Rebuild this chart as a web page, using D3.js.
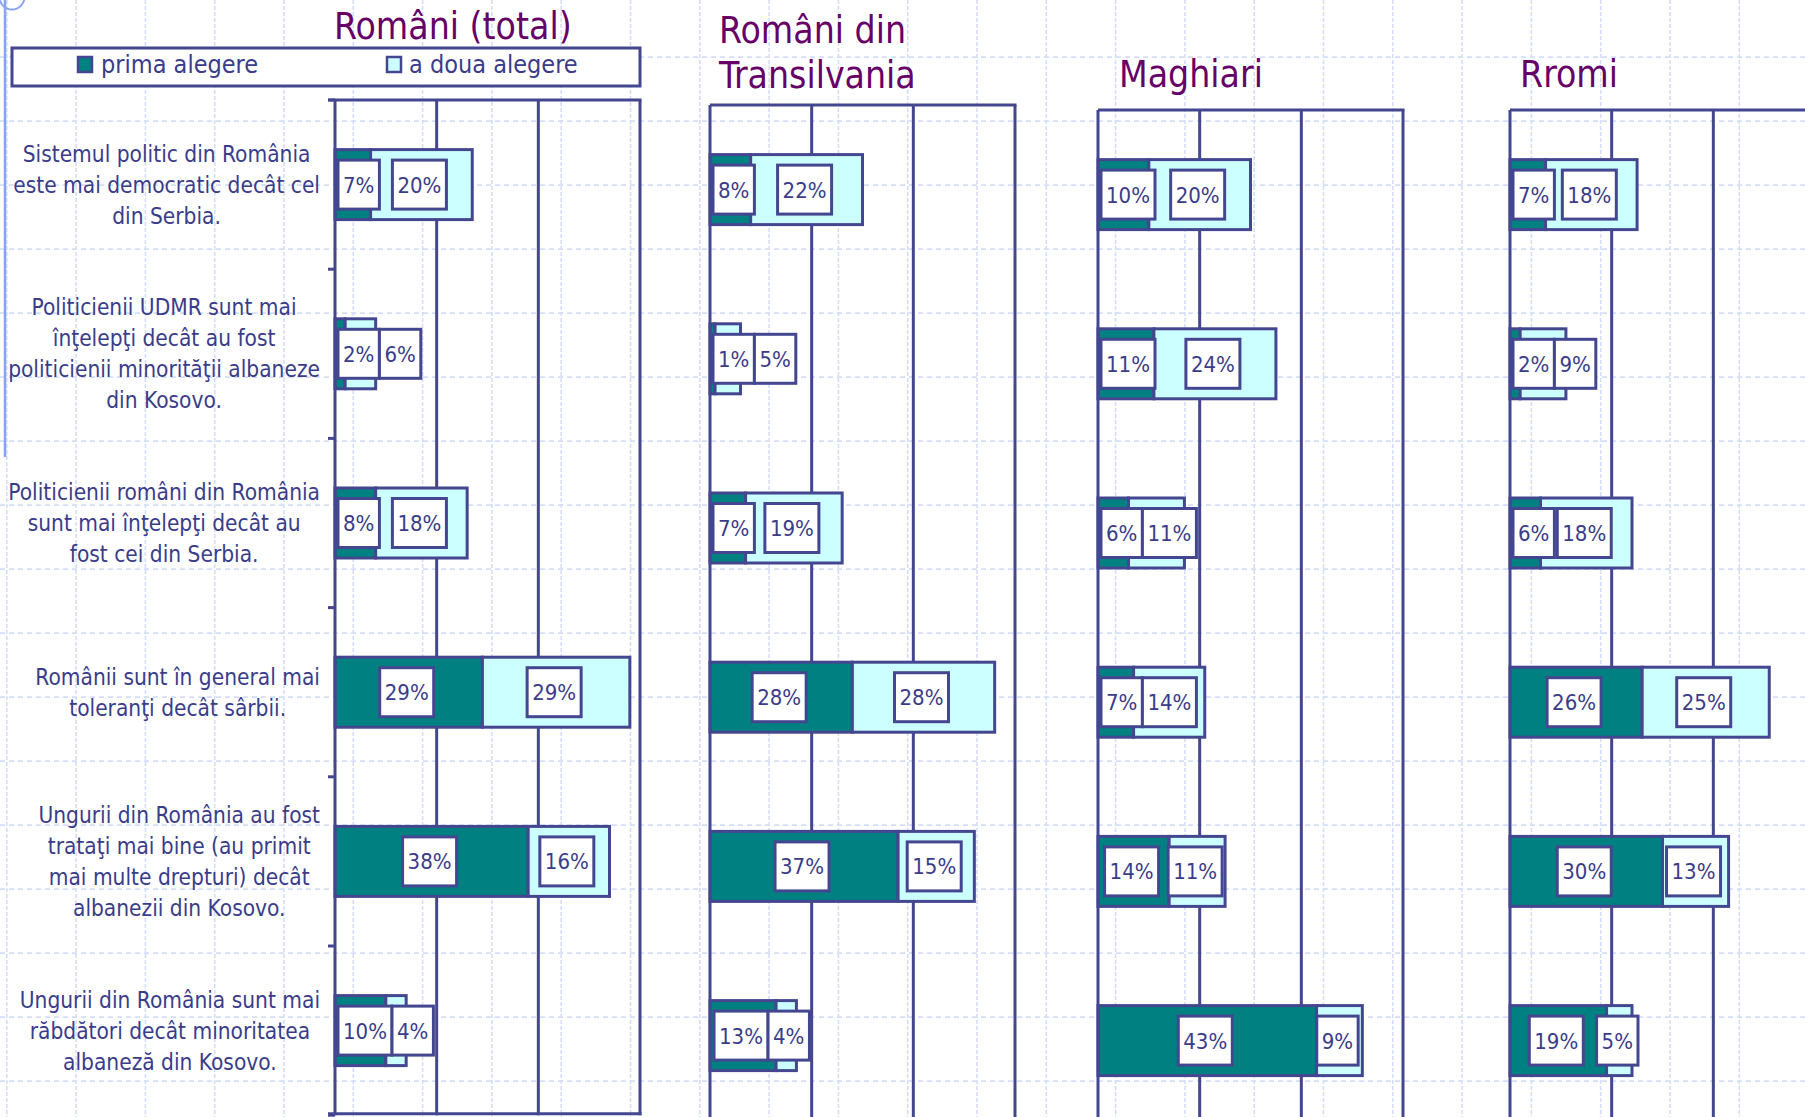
<!DOCTYPE html>
<html lang="ro">
<head>
    <meta charset="UTF-8">
    <title>Prima și a doua alegere</title>
    <script src="https://d3js.org/d3.v7.min.js"></script>
    <style>
        body { margin: 0; background: #fff; }
        svg { display: block; font-family: "DejaVu Sans Condensed", "DejaVu Sans", sans-serif; }
    </style>
</head>
<body>
    <svg width="1805" height="1117"></svg>

    <script>
        // date
        const categories = [
            ["Sistemul politic din România", "este mai democratic decât cel", "din Serbia."],
            ["Politicienii UDMR sunt mai", "înţelepţi decât au fost", "politicienii minorităţii albaneze", "din Kosovo."],
            ["Politicienii români din România", "sunt mai înţelepţi decât au", "fost cei din Serbia."],
            ["Românii sunt în general mai", "toleranţi decât sârbii."],
            ["Ungurii din România au fost", "trataţi mai bine (au primit", "mai multe drepturi) decât", "albanezii din Kosovo."],
            ["Ungurii din România sunt mai", "răbdători decât minoritatea", "albaneză din Kosovo."]
        ];
        const groupTitles = [["Români (total)"], ["Români din", "Transilvania"], ["Maghiari"], ["Rromi"]];
        const seriesNames = ["prima alegere", "a doua alegere"];
        const primaAlegere = [
            [7, 2, 8, 29, 38, 10],
            [8, 1, 7, 28, 37, 13],
            [10, 11, 6, 7, 14, 43],
            [7, 2, 6, 26, 30, 19]
        ];
        const aDouaAlegere = [
            [20, 6, 18, 29, 16, 4],
            [22, 5, 19, 28, 15, 4],
            [20, 24, 11, 14, 11, 9],
            [18, 9, 18, 25, 13, 5]
        ];
        const xTicks = [20, 40];
        const xMax = 60;

        const W = 1805, H = 1117;
        const ink = "#444790", teal = "#008080", cyan = "#ccffff";
        const textCol = "#3a3c8a", titleCol = "#660066";

        // pozitii panouri
        const panels = [
            { x0: 335, top: 100, tx: 334, ty: 39 },
            { x0: 710, top: 105, tx: 719, ty: 43 },
            { x0: 1098, top: 110, tx: 1119, ty: 87 },
            { x0: 1510, top: 110, tx: 1520, ty: 87 }
        ];
        const plotW = 305, step = 169.2, barH = 70;

        const svg = d3.select("svg");

        // fundal: grila punctata
        const bg = svg.append("g");
        bg.selectAll(".gv").data(d3.range(6.8, W, 69.3)).enter().append("line")
            .attr("x1", d => d).attr("x2", d => d).attr("y1", 0).attr("y2", H)
            .attr("stroke", "#d5def9").attr("stroke-width", 1.6).attr("stroke-dasharray", "4,2");
        bg.selectAll(".gh").data(d3.range(57.1, H, 64)).enter().append("line")
            .attr("x1", 0).attr("x2", W).attr("y1", d => d).attr("y2", d => d)
            .attr("stroke", "#d5def9").attr("stroke-width", 1.6).attr("stroke-dasharray", "5,4");
        bg.append("line").attr("x1", 5).attr("x2", 5).attr("y1", 0).attr("y2", 457)
            .attr("stroke", "#8aa3f0").attr("stroke-width", 2.5);
        bg.append("circle").attr("cx", 12).attr("cy", -3).attr("r", 12.5)
            .attr("fill", "none").attr("stroke", "#8aa3f0").attr("stroke-width", 2);

        // legenda
        svg.append("rect").attr("x", 12).attr("y", 48).attr("width", 628).attr("height", 38)
            .attr("fill", "#fff").attr("stroke", ink).attr("stroke-width", 3);
        const legX = [[78, 101], [387, 409]];
        seriesNames.forEach((s, i) => {
            svg.append("rect").attr("x", legX[i][0]).attr("y", 57).attr("width", 14).attr("height", 15)
                .attr("fill", i === 0 ? teal : cyan).attr("stroke", ink).attr("stroke-width", 2.5);
            svg.append("text").attr("x", legX[i][1]).attr("y", 73).text(s)
                .attr("font-size", 25).attr("fill", textCol);
        });

        panels.forEach((p, pi) => {
            const x = d3.scaleLinear().domain([0, xMax]).range([p.x0, p.x0 + plotW]);
            const y = d3.scaleBand().domain(d3.range(categories.length))
                .range([p.top, p.top + step * categories.length])
                .paddingInner(1 - barH / step).paddingOuter((1 - barH / step) / 2);
            const bottom = p.top + step * categories.length;
            const g = svg.append("g");

            // titlu
            groupTitles[pi].forEach((t, li) => {
                g.append("text").attr("x", p.tx).attr("y", p.ty + li * 44.5).text(t)
                    .attr("font-size", 37).attr("fill", titleCol);
            });

            // linii de grila si chenar
            g.selectAll(".grid").data(xTicks).enter().append("line")
                .attr("x1", d => x(d)).attr("x2", d => x(d)).attr("y1", p.top).attr("y2", bottom)
                .attr("stroke", ink).attr("stroke-width", 3);
            g.append("line").attr("x1", x(xMax)).attr("x2", x(xMax)).attr("y1", p.top).attr("y2", bottom)
                .attr("stroke", ink).attr("stroke-width", 3);
            g.append("line").attr("x1", x(0) - (pi === 0 ? 7 : 0)).attr("x2", x(xMax) + 1.5)
                .attr("y1", p.top).attr("y2", p.top).attr("stroke", ink).attr("stroke-width", 3);

            // bare stivuite
            const rows = g.selectAll(".row").data(d3.range(categories.length)).enter().append("g");
            rows.append("rect")
                .attr("x", i => x(0)).attr("y", i => y(i))
                .attr("width", i => x(primaAlegere[pi][i]) - x(0)).attr("height", y.bandwidth())
                .attr("fill", teal).attr("stroke", ink).attr("stroke-width", 3);
            rows.append("rect")
                .attr("x", i => x(primaAlegere[pi][i])).attr("y", i => y(i))
                .attr("width", i => x(primaAlegere[pi][i] + aDouaAlegere[pi][i]) - x(primaAlegere[pi][i]))
                .attr("height", y.bandwidth())
                .attr("fill", cyan).attr("stroke", ink).attr("stroke-width", 3);

            // axa categoriilor
            g.append("line").attr("x1", x(0)).attr("x2", x(0)).attr("y1", p.top).attr("y2", bottom)
                .attr("stroke", ink).attr("stroke-width", 3);
            if (pi === 0) {
                g.selectAll(".tick").data(d3.range(categories.length + 1)).enter().append("line")
                    .attr("x1", x(0) - 7).attr("x2", x(0))
                    .attr("y1", k => p.top + k * step).attr("y2", k => p.top + k * step)
                    .attr("stroke", ink).attr("stroke-width", 3);
                g.append("line").attr("x1", x(0) - 7).attr("x2", x(xMax) + 1.5)
                    .attr("y1", bottom - 1.5).attr("y2", bottom - 1.5)
                    .attr("stroke", ink).attr("stroke-width", 3);
            }

            // etichete de date
            rows.each(function (i) {
                const row = d3.select(this);
                const v1 = primaAlegere[pi][i], v2 = aDouaAlegere[pi][i];
                const cy = y(i) + y.bandwidth() / 2;
                const boxes = [v1, v2].map(v => {
                    const lg = row.append("g");
                    const r = lg.append("rect");
                    const t = lg.append("text").text(v + "%").attr("font-size", 22)
                        .attr("fill", textCol).attr("text-anchor", "middle");
                    return { r, t, w: t.node().getComputedTextLength() + 10 };
                });
                const c1 = Math.max(x(v1 / 2) - 2, x(0) + boxes[0].w / 2 + 3);
                const c2 = Math.max(x(v1 + v2 / 2) - 2, c1 + boxes[0].w / 2 + boxes[1].w / 2);
                [c1, c2].forEach((c, k) => {
                    boxes[k].r.attr("x", c - boxes[k].w / 2).attr("y", cy - 24.5)
                        .attr("width", boxes[k].w).attr("height", 49)
                        .attr("fill", "#fff").attr("stroke", ink).attr("stroke-width", 3);
                    boxes[k].t.attr("x", c).attr("y", cy + 8);
                });
            });
        });

        // etichetele categoriilor (aliniate la dreapta, centrate pe rand)
        const p0 = panels[0];
        categories.forEach((lines, i) => {
            const cy = p0.top + step * (i + 0.5);
            const lg = svg.append("g");
            const texts = lines.map((l, li) => lg.append("text").text(l)
                .attr("font-size", 22.5).attr("fill", textCol).attr("text-anchor", "middle")
                .attr("y", cy + (li - (lines.length - 1) / 2) * 31 + 8));
            const maxW = d3.max(texts, t => t.node().getComputedTextLength());
            texts.forEach(t => t.attr("x", 320 - maxW / 2));
        });
    </script>
</body>
</html>
